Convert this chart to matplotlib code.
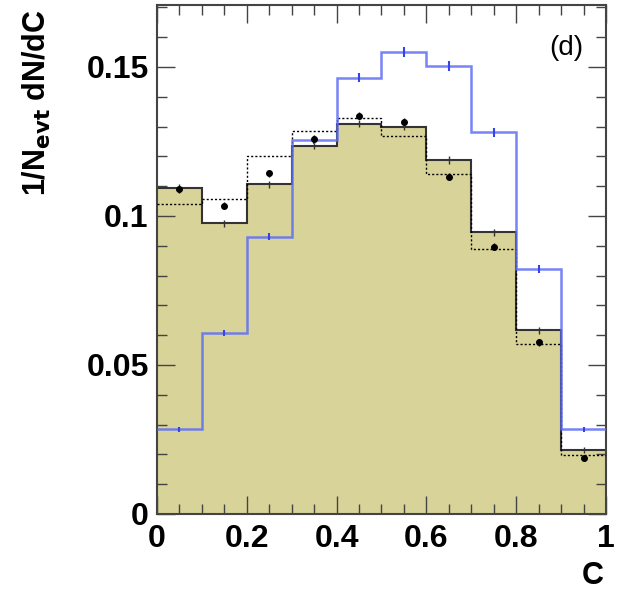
import matplotlib
matplotlib.use("Agg")
import matplotlib.pyplot as plt
import numpy as np

plt.rcParams['font.family'] = ['Liberation Sans', 'DejaVu Sans']

edges = [0.0, 0.1, 0.2, 0.3, 0.4, 0.5, 0.6, 0.7, 0.8, 0.9, 1.0]
centers = [0.05, 0.15, 0.25, 0.35, 0.45, 0.55, 0.65, 0.75, 0.85, 0.95]
filled = [0.1095, 0.0975, 0.1106, 0.1236, 0.1309, 0.1300, 0.1188, 0.0945, 0.0617, 0.0215]
dotted = [0.1040, 0.1056, 0.1202, 0.1285, 0.1328, 0.1270, 0.1141, 0.0888, 0.0570, 0.0198]
points = [0.1090, 0.1035, 0.1143, 0.1260, 0.1336, 0.1317, 0.1132, 0.0897, 0.0576, 0.0189]
point_err = [0.0012, 0.0012, 0.0012, 0.0012, 0.0012, 0.0012, 0.0012, 0.0012, 0.0012, 0.0010]
blue = [0.0284, 0.0606, 0.0931, 0.1255, 0.1464, 0.1551, 0.1504, 0.1281, 0.0822, 0.0284]
blue_err = [0.0008, 0.0010, 0.0012, 0.0015, 0.0016, 0.0016, 0.0016, 0.0015, 0.0012, 0.0008]

fig = plt.figure(figsize=(6.19, 5.96), dpi=100)
ax = fig.add_axes([0.2536, 0.1376, 0.979 - 0.2536, 0.9916 - 0.1376])

fill_col = '#d8d399'
ax.stairs(filled, edges, fill=True, color=fill_col, zorder=1)
ax.stairs(filled, edges, baseline=None, color='#333333', lw=1.5, zorder=2)
ax.errorbar(centers, filled, yerr=point_err, fmt='none', ecolor='#333333', elinewidth=1, zorder=2)
ax.stairs(dotted, edges, baseline=None, color='black', lw=1.0, ls=(0, (1.5, 1.5)), zorder=3)
ax.stairs(blue, edges, baseline=None, color='#5f6ef5', lw=1.8, alpha=0.85, zorder=4)
ax.errorbar(centers, blue, yerr=blue_err, fmt='none', ecolor='#3344ee', elinewidth=1.5, zorder=4)
ax.errorbar(centers, points, yerr=point_err, fmt='o', color='black', ms=4, elinewidth=1, zorder=5)

ax.set_xlim(0, 1)
ax.set_ylim(0, 0.1708)
ax.set_xticks([0, 0.2, 0.4, 0.6, 0.8, 1.0])
ax.set_xticklabels(['0', '0.2', '0.4', '0.6', '0.8', '1'])
ax.set_xticks(np.arange(0, 1.0001, 0.05), minor=True)
ax.set_yticks([0, 0.05, 0.1, 0.15])
ax.set_yticklabels(['0', '0.05', '0.1', '0.15'])
ax.set_yticks(np.arange(0, 0.1701, 0.01), minor=True)
ax.tick_params(which='both', direction='in', top=True, right=True, labelsize=23, width=1.0, color='#444444')
ax.tick_params(which='major', length=13)
ax.tick_params(which='minor', length=7)
for lbl in ax.get_xticklabels() + ax.get_yticklabels():
    lbl.set_fontweight('bold')
ax.tick_params(axis='x', pad=7)
ax.tick_params(axis='y', pad=6)
for s in ax.spines.values():
    s.set_linewidth(1.5)
    s.set_color('#444444')

fig.text(0.06, 0.985, r'1/N$_{\mathbf{evt}}$ dN/dC', rotation=90, ha='center', va='top',
         fontsize=22, fontweight='bold')
fig.text(0.975, 0.008, 'C', ha='right', va='bottom', fontsize=22, fontweight='bold')
ax.text(0.911, 0.915, '(d)', transform=ax.transAxes, ha='center', va='center', fontsize=20)

fig.savefig('out.png', dpi=100)
